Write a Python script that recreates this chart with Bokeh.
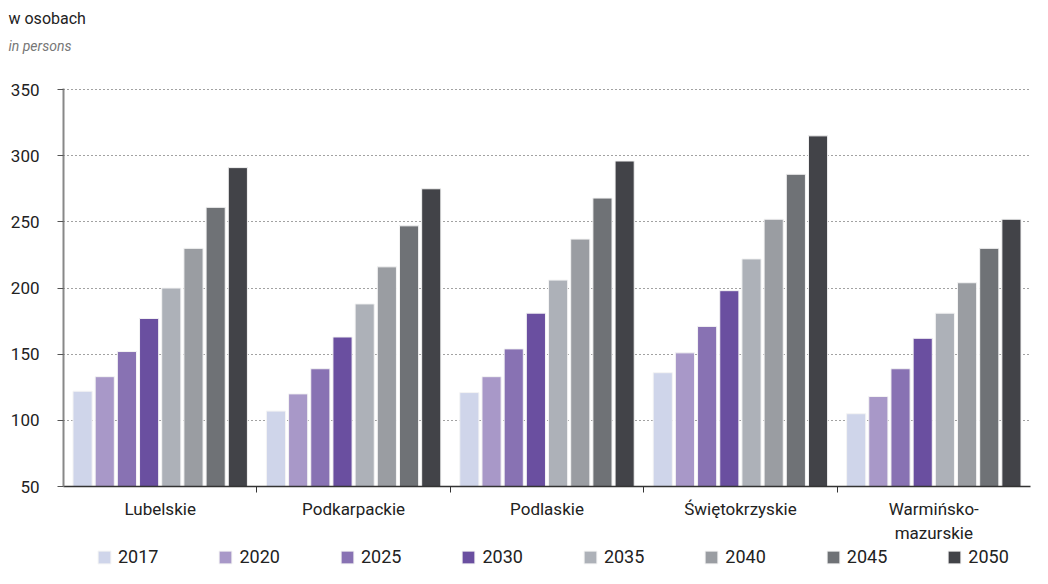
from bokeh.plotting import figure
from bokeh.layouts import column
from bokeh.models import (ColumnDataSource, FixedTicker, Legend, LegendItem, Label,
                          Range1d)
from bokeh.embed import file_html
from bokeh.resources import INLINE

FONT = "Roboto"

regions = ["Lubelskie", "Podkarpackie", "Podlaskie", "Świętokrzyskie", "Warmińsko-\nmazurskie"]
years = ["2017", "2020", "2025", "2030", "2035", "2040", "2045", "2050"]
v2017 = [122, 107, 121, 136, 105]
v2020 = [133, 120, 133, 151, 118]
v2025 = [152, 139, 154, 171, 139]
v2030 = [177, 163, 181, 198, 162]
v2035 = [200, 188, 206, 222, 181]
v2040 = [230, 216, 237, 252, 204]
v2045 = [261, 247, 268, 286, 230]
v2050 = [291, 275, 296, 315, 252]
series = [v2017, v2020, v2025, v2030, v2035, v2040, v2045, v2050]
colors = ["#cfd5ea", "#a898c8", "#8872b3", "#6a4fa0", "#adb1b8", "#9a9da2", "#6f7276", "#424348"]

W = 1032

# ---- header (unit captions) ----
head = figure(width=W, height=78, output_backend="svg", toolbar_location=None,
              x_axis_type=None, y_axis_type=None, min_border=0,
              x_range=Range1d(0, 1), y_range=Range1d(0, 1))
head.frame_align = False
head.outline_line_color = None
head.grid.visible = False
head.add_layout(Label(x=8, y=60, x_units="screen", y_units="screen", text="w osobach",
                      text_font=FONT, text_font_size="16px", text_color="#222222",
                      text_baseline="middle"))
head.add_layout(Label(x=8, y=33, x_units="screen", y_units="screen", text="in persons",
                      text_font=FONT, text_font_size="14px", text_font_style="italic",
                      text_color="#777777", text_baseline="middle"))

# ---- main chart ----
p = figure(width=W, height=467, output_backend="svg", toolbar_location=None,
           x_range=Range1d(0, len(regions)), y_range=Range1d(50, 350.8),
           min_border_left=63, min_border_right=2, min_border_top=10, min_border_bottom=59)
p.frame_align = False
p.outline_line_color = None
p.background_fill_color = "white"

# ---- legend strip (same sources; its ranges keep the bars out of view) ----
leg = figure(width=W, height=23, output_backend="svg", toolbar_location=None,
             x_axis_type=None, y_axis_type=None, min_border=0,
             x_range=Range1d(1000, 1001), y_range=Range1d(5000, 5001))
leg.frame_align = False
leg.outline_line_color = None
leg.grid.visible = False

step = 0.1147
bw = 0.099
items = []
for k, (yr, vals, c) in enumerate(zip(years, series, colors)):
    xs = [i + 0.5 + (k - 3.5) * step for i in range(len(regions))]
    src = ColumnDataSource(dict(x=xs, top=vals))
    p.vbar(x="x", top="top", bottom=50, width=bw, source=src,
           fill_color=c, line_color="#f4f4f4", line_width=1)
    r = leg.vbar(x="x", top="top", bottom=50, width=bw, source=src,
                 fill_color=c, line_color="#f4f4f4", line_width=1)
    items.append(LegendItem(label=yr, renderers=[r]))

xa = p.xaxis[0]
xa.ticker = FixedTicker(ticks=[i + 0.5 for i in range(len(regions))],
                        minor_ticks=list(range(1, len(regions))))
xa.major_label_overrides = {i + 0.5: r for i, r in enumerate(regions)}
xa.major_tick_line_color = None
xa.minor_tick_in = 0
xa.minor_tick_out = 6
xa.minor_tick_line_color = "#333333"
xa.axis_line_color = "#333333"
xa.axis_line_width = 1.5
xa.major_label_text_font = FONT
xa.major_label_text_font_size = "17px"
xa.major_label_text_color = "#222222"
xa.major_label_standoff = 6

ya = p.yaxis[0]
ya.ticker = FixedTicker(ticks=[50, 100, 150, 200, 250, 300, 350])
ya.axis_line_color = "#888888"
ya.axis_line_width = 2
ya.major_tick_line_color = "#555555"
ya.major_tick_in = 0
ya.major_tick_out = 6
ya.minor_tick_line_color = None
ya.major_label_text_font = FONT
ya.major_label_text_font_size = "17px"
ya.major_label_text_color = "#222222"
ya.major_label_standoff = 18

p.xgrid.grid_line_color = None
p.ygrid.grid_line_color = "#444444"
p.ygrid.grid_line_dash = "1 3"
p.ygrid.grid_line_width = 1.2

legend = Legend(items=items, orientation="horizontal", location=(96, 1),
                glyph_width=16, glyph_height=16, label_standoff=6, spacing=59,
                padding=0, margin=0, border_line_color=None, background_fill_alpha=0,
                label_text_font=FONT, label_text_font_size="18px",
                label_text_color="#222222")
leg.add_layout(legend)

layout = column(head, p, leg, spacing=0)
open("out.html", "w").write(file_html(layout, INLINE))
